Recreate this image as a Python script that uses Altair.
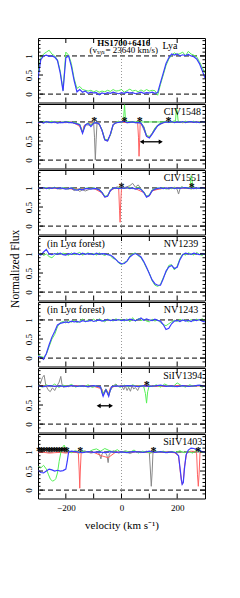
import altair as alt
import pandas as pd

SERIF = "Liberation Serif"
W = 167
H = 64.5
BLUE = "#3c3cff"
GREEN = "#55f055"
RED = "#ff6060"
GRAY = "#888888"

V10 = [-300, -290, -280, -270, -260, -250, -240, -230, -220, -210,
       -200, -190, -180, -170, -160, -150, -140, -130, -120, -110,
       -100, -90, -80, -70, -60, -50, -40, -30, -20, -10,
       0, 10, 20, 30, 40, 50, 60, 70, 80, 90,
       100, 110, 120, 130, 140, 150, 160, 170, 180, 190,
       200, 210, 220, 230, 240, 250, 260, 270, 280, 290, 300]

# ---------------- Panel 1 : Lya ----------------
P1_BLUE = [0.42, 0.90, 1.00, 1.02, 0.99, 1.00, 0.97, 0.88, 0.55, 0.08,
           0.95, 1.00, 0.72, 0.35, 0.06, 0.12, 0.05, 0.08, 0.02, 0.05,
           0.03, 0.04, -0.02, 0.03, 0.01, 0.04, 0.02, 0.05, 0.03, 0.01,
           0.04, 0.02, 0.05, 0.03, 0.04, 0.01, 0.03, 0.05, 0.02, 0.04,
           0.03, 0.05, 0.02, 0.04, 0.30, 0.55, 0.80, 0.95, 1.05, 1.02,
           1.05, 1.00, 1.03, 1.01, 1.04, 1.00, 0.98, 0.92, 0.80, 0.62, 0.42]
P1_GREEN = [0.55, 0.95, 1.05, 1.10, 1.15, 1.05, 1.00, 0.90, 0.60, 0.10,
            1.10, 1.02, 0.80, 0.40, 0.15, 0.20, 0.12, 0.10, 0.08, 0.10,
            0.06, 0.09, 0.05, 0.08, 0.06, 0.10, 0.07, 0.12, 0.08, 0.09,
            0.12, 0.05, 0.09, 0.13, 0.08, 0.10, 0.06, 0.11, 0.07, 0.12,
            0.08, 0.10, 0.09, -0.03, 0.25, 0.50, 0.75, 0.92, 1.02, 1.08,
            1.04, 1.06, 1.10, 1.00, 1.12, 1.05, 1.02, 0.98, 0.85, 0.70, 0.55]

# ---------------- Panel 2 : CIV1548 ----------------
P2_BLUE = [0.98, 1.00, 0.97, 1.01, 0.99, 0.98, 1.00, 0.97, 0.99, 0.98,
           1.00, 0.98, 0.99, 0.97, 0.95, 0.92, 0.70, 0.92, 0.96, 0.88,
           0.97, 0.98, 0.95, 0.78, 0.53, 0.50, 0.68, 0.93, 0.98, 0.99,
           1.00, 1.02, 0.98, 0.99, 1.00, 0.98, 0.99, 0.97, 0.85, 0.62,
           0.58, 0.68, 0.80, 0.90, 0.95, 0.98, 1.00, 0.99, 1.01, 0.98,
           1.00, 0.99, 1.01, 0.98, 1.00, 1.01, 0.99, 1.00, 0.98, 1.01, 0.99]
P2_GREEN = [1.01, 0.99, 1.02, 0.98, 1.00, 1.02, 0.99, 1.01, 0.98, 1.00,
            0.99, 1.01, 0.98, 1.00, 0.96, 0.94, 0.74, 0.92, 0.98, 0.93,
            0.99, 0.97, 0.94, 0.80, 0.55, 0.53, 0.65, 0.92, 0.99, 1.02,
            0.98, 1.03, 1.00, 0.98, 1.01, 0.99, 1.02, 0.98, 0.88, 0.65,
            0.62, 0.70, 0.84, 0.92, 0.97, 0.99, 1.02, 0.98, 1.00, 1.03,
            0.99, 1.01, 0.98, 1.02, 0.99, 1.00, 1.02, 0.98, 1.01, 0.99, 1.00]
P2_GSPIKE_V = [5, 8, 11, 14, 17, 194, 197, 200, 203, 206]
P2_GSPIKE_F = [1.00, 1.15, 1.45, 1.10, 1.00, 1.00, 1.35, 1.30, 1.05, 1.00]
P2_RED_V = [-300, -280, -260, -240, -220, -200, -180, -160, -150, -145, -140, -135,
            -120, -100, -80, -70, -60, -50, -40, -30, -20, 0, 20, 40,
            58, 61, 63, 65, 67, 70, 80, 90, 100, 110, 120,
            140, 160, 180, 200, 220, 240, 260, 280, 300]
P2_RED_F = [0.97, 1.00, 0.98, 1.01, 0.99, 0.98, 1.00, 0.93, 0.88, 0.80, 0.72, 0.90,
            0.97, 0.98, 0.94, 0.78, 0.54, 0.51, 0.66, 0.92, 0.99, 1.00, 0.98, 1.00,
            0.98, 0.60, 0.10, 0.45, 0.95, 0.97, 0.86, 0.63, 0.59, 0.70, 0.82,
            0.96, 1.00, 0.99, 1.01, 0.98, 1.00, 0.99, 1.01, 0.98]
P2_GRAY_V = [-300, -270, -240, -210, -180, -150, -140, -130,
             -110, -100, -97, -94, -91, -88,
             -80, -70, -60, -50, -40, -30,
             -10, 10, 30, 50, 70, 90, 100, 110, 130, 150,
             180, 210, 240, 270, 300]
P2_GRAY_F = [0.99, 1.01, 0.98, 1.00, 0.99, 0.93, 0.73, 0.92,
             0.92, 0.97, 0.60, 0.00, 0.55, 0.96,
             0.95, 0.77, 0.52, 0.50, 0.67, 0.93,
             1.00, 0.99, 1.00, 0.98, 0.97, 0.63, 0.59, 0.69, 0.90, 0.98,
             1.00, 0.99, 1.01, 0.99, 1.00]
P2_STAR_V = [-98, 11, 66, 169]

# ---------------- Panel 3 : CIV1551 ----------------
P3_BLUE = [1.00, 0.99, 1.01, 0.98, 1.00, 0.99, 1.01, 0.98, 1.00, 0.99,
           0.97, 0.98, 1.00, 0.96, 0.94, 0.97, 0.95, 0.98, 0.99, 0.97,
           0.99, 0.98, 0.95, 0.88, 0.76, 0.78, 0.93, 0.99, 1.00, 0.98,
           1.00, 0.99, 1.01, 0.98, 1.00, 0.97, 0.99, 0.96, 0.88, 0.76,
           0.80, 0.93, 0.97, 0.99, 1.00, 0.98, 1.00, 0.99, 1.01, 0.98,
           1.00, 0.99, 1.00, 1.01, 0.99, 1.00, 0.98, 1.00, 0.99, 1.01, 0.99]
P3_GREEN = [1.02, 0.98, 1.00, 1.01, 0.97, 1.00, 1.02, 0.99, 0.98, 1.01,
            0.99, 0.97, 1.01, 0.98, 0.95, 0.98, 0.96, 0.99, 1.00, 0.98,
            1.01, 0.97, 0.96, 0.90, 0.78, 0.80, 0.95, 1.00, 0.98, 1.01,
            0.98, 1.00, 0.99, 1.02, 0.98, 0.99, 1.01, 0.97, 0.90, 0.78,
            0.82, 0.95, 0.98, 1.00, 0.98, 1.01, 0.97, 1.00, 0.98, 1.01,
            0.98, 1.00, 1.02, 0.99, 1.01, 0.97, 1.00, 0.98, 1.01, 0.99, 0.98]
P3_GSPIKE_V = [247, 250, 253, 256]
P3_GSPIKE_F = [1.00, 1.32, 1.25, 1.00]
P3_GRAY_V = [-300, -280, -260, -240, -220, -200, -180,
             -170, -160, -150, -140, -130,
             -110, -90, -80, -70, -60, -50, -40, -30, -15,
             0, 15, 30, 40, 50, 60, 70, 80, 90, 100, 110,
             130, 150, 170, 190, 200, 205, 210, 215,
             230, 250, 270, 290, 300]
P3_GRAY_F = [1.00, 0.98, 1.01, 0.99, 0.97, 1.00, 0.98,
             0.93, 0.96, 0.91, 0.95, 0.92,
             0.98, 0.97, 0.94, 0.86, 0.77, 0.79, 0.92, 0.98, 1.03,
             0.99, 1.02, 1.06, 1.12, 1.02, 1.08, 0.98, 0.90, 0.77, 0.80, 0.92,
             0.98, 1.00, 0.97, 1.02, 0.96, 0.84, 0.97, 1.03,
             0.99, 1.00, 0.98, 1.01, 0.99]
P3_RED_V = [-300, -250, -200, -150, -100, -70, -60, -50, -40, -20,
            -10, -7, -5, -3, 0, 20, 50, 80, 90, 100,
            110, 150, 200, 250, 300]
P3_RED_F = [0.99, 1.00, 0.98, 0.97, 0.99, 0.87, 0.76, 0.79, 0.94, 1.00,
            0.98, 0.40, 0.10, 0.60, 0.99, 1.00, 0.98, 0.88, 0.77, 0.79,
            0.93, 0.99, 1.00, 0.98, 1.00]
P3_STAR_V = [0, 252]

# ---------------- Panel 4 : NV1239 ----------------
P4_BLUE = [1.00, 0.97, 1.05, 1.12, 1.00, 0.98, 1.01, 0.99, 1.02, 0.98,
           0.97, 1.01, 0.99, 1.02, 1.00, 0.98, 1.02, 0.99, 1.01, 1.00,
           0.98, 1.02, 0.99, 1.01, 1.00, 0.98, 0.97, 0.92, 0.85, 0.78,
           0.74, 0.75, 0.82, 0.92, 0.98, 1.01, 0.97, 0.92, 0.80, 0.65,
           0.48, 0.32, 0.22, 0.18, 0.18, 0.35, 0.55, 0.66, 0.70, 0.62,
           0.65, 0.85, 0.98, 1.02, 1.00, 0.99, 1.02, 1.00, 0.98, 1.01, 0.99]
P4_GREEN = [0.98, 1.02, 0.96, 1.00, 0.93, 0.90, 0.97, 1.03, 0.99, 1.02,
            1.00, 0.96, 1.03, 0.98, 1.01, 1.04, 0.97, 1.00, 1.03, 0.98,
            1.01, 0.97, 1.03, 0.99, 0.96, 1.00, 0.95, 0.88, 0.86, 0.76,
            0.72, 0.78, 0.80, 0.95, 1.00, 1.03, 0.95, 0.90, 0.78, 0.63,
            0.50, 0.30, 0.18, 0.15, 0.20, 0.38, 0.52, 0.70, 0.72, 0.58,
            0.68, 0.88, 1.00, 0.97, 1.03, 1.00, 0.97, 1.04, 0.99, 0.96, 1.02]

# ---------------- Panel 5 : NV1243 ----------------
P5_BLUE = [0.05, 0.02, -0.03, 0.12, 0.35, 0.55, 0.70, 0.87, 0.91, 0.93,
           0.95, 0.93, 0.97, 0.95, 0.96, 0.94, 0.98, 0.96, 0.97, 0.99,
           0.96, 0.98, 1.00, 0.97, 0.99, 1.01, 0.98, 1.00, 0.99, 1.01,
           0.98, 1.00, 0.99, 1.02, 1.00, 0.98, 1.01, 1.05, 0.99, 1.03,
           1.00, 0.98, 1.02, 0.99, 0.97, 0.88, 0.75, 0.78, 0.90, 0.97,
           0.99, 0.96, 1.00, 0.97, 0.99, 0.96, 1.00, 0.98, 1.01, 0.97, 0.95]
P5_GREEN = [0.08, 0.04, 0.02, 0.10, 0.30, 0.50, 0.62, 0.82, 0.93, 0.96,
            0.92, 0.98, 0.94, 1.00, 0.93, 0.97, 1.02, 0.95, 1.00, 0.97,
            1.02, 0.96, 1.03, 0.99, 0.95, 1.02, 1.00, 0.97, 1.03, 0.99,
            1.01, 0.97, 1.03, 0.95, 1.06, 0.96, 1.04, 0.98, 1.02, 0.97,
            0.95, 1.02, 0.97, 1.00, 0.93, 0.88, 0.85, 0.90, 0.95, 0.99,
            0.96, 1.02, 0.98, 1.00, 0.95, 1.01, 0.97, 1.02, 0.99, 1.03, 0.98]

# ---------------- Panel 6 : SiIV1394 ----------------
P6_BLUE_V = [-300, -280, -260, -240, -220, -200, -180, -160, -140, -120, -100,
             -85, -75, -70, -66, -62, -56, -50, -46, -42, -36,
             -20, 0, 20, 40, 60, 80, 100, 120, 140, 160, 180, 200, 220, 240, 260, 280, 300]
P6_BLUE_F = [1.00, 0.98, 1.01, 0.99, 1.00, 0.98, 1.01, 0.99, 1.00, 0.98, 1.01,
             0.99, 0.97, 0.82, 0.73, 0.80, 0.90, 0.80, 0.73, 0.85, 0.98,
             1.00, 0.99, 1.01, 1.00, 0.98, 1.01, 0.99, 1.00, 1.02, 0.99, 1.00, 0.98, 1.01, 0.99, 1.00, 1.02, 0.99]
P6_GREEN_V = [-300, -285, -270, -255, -240, -225, -210, -195, -180, -165,
              -150, -135, -120, -105, -90, -75, -66, -56, -46, -35,
              -20, -5, 10, 25, 40, 55, 70, 80, 86, 90,
              94, 100, 110, 125, 140, 155, 170, 185, 200, 215,
              230, 245, 260, 275, 290, 300]
P6_GREEN_F = [1.02, 0.97, 1.03, 0.98, 1.05, 0.96, 1.02, 0.99, 1.04, 0.97,
              1.01, 0.98, 1.03, 0.96, 1.00, 0.97, 0.80, 0.92, 0.78, 0.97,
              1.03, 0.96, 1.02, 0.97, 1.03, 0.99, 1.01, 0.98, 0.80, 0.55,
              0.85, 1.02, 0.98, 1.03, 0.97, 1.05, 1.00, 0.98, 1.08, 1.01,
              0.97, 1.03, 0.99, 1.02, 0.97, 1.00]
P6_GRAY_V = [-300, -292, -284, -278, -272, -264, -256, -248, -240, -232,
             -224, -218, -214, -208, -200, -190, -180, -160, -140, -120,
             -100, -85, -75, -70, -66, -62, -56, -50, -46, -40,
             -30, -20, -10, 0, 8, 14, 20, 26, 32, 38,
             44, 50, 58, 66, 80, 100, 130, 160, 190, 220,
             250, 280, 300]
P6_GRAY_F = [1.00, 1.05, 1.22, 1.28, 1.02, 0.90, 0.85, 0.95, 0.88, 1.00,
             1.10, 1.25, 1.05, 0.96, 1.00, 0.98, 1.02, 0.99, 1.01, 0.97,
             1.00, 0.98, 0.96, 0.84, 0.74, 0.82, 0.91, 0.80, 0.74, 0.88,
             1.00, 1.05, 0.98, 1.02, 0.90, 1.00, 0.88, 0.96, 0.86, 1.00,
             0.92, 0.96, 0.88, 1.00, 0.98, 1.00, 0.99, 1.01, 0.98, 1.00,
             0.99, 1.01, 1.00]
P6_RED_V = [-300, -250, -200, -150, -100, -70, -66, -56, -46, -40,
            -20, 0, 50, 100, 150, 200, 250, 300]
P6_RED_F = [1.01, 0.99, 1.00, 1.01, 0.99, 0.92, 0.80, 0.92, 0.80, 0.95,
            1.00, 0.99, 1.01, 1.00, 0.99, 1.01, 1.00, 1.00]
P6_STAR_V = [91]

# ---------------- Panel 7 : SiIV1403 ----------------
P7_BLUE_V = [-300, -290, -280, -270, -260, -250, -240, -230, -220, -210,
             -200, -195, -190, -180, -160, -140, -120, -100, -80, -60,
             -40, -20, 0, 20, 40, 60, 80, 100, 120, 140,
             160, 180, 195, 205, 210, 215, 218, 222, 226, 232,
             240, 250, 260, 270, 280, 290, 300]
P7_BLUE_F = [0.52, 0.46, 0.45, 0.50, 0.55, 0.53, 0.50, 0.52, 0.50, 0.51,
             0.55, 0.75, 1.00, 1.02, 1.00, 0.98, 1.01, 0.99, 1.00, 0.98,
             1.01, 0.99, 1.00, 0.98, 1.01, 1.00, 0.99, 1.02, 0.99, 1.01,
             0.98, 1.00, 0.98, 0.90, 0.60, 0.28, 0.15, 0.20, 0.55, 0.92,
             1.05, 1.10, 1.09, 1.06, 1.03, 1.01, 0.99]
P7_GREEN_V = [-300, -290, -280, -270, -262, -255, -248, -242, -236, -230,
              -224, -218, -212, -206, -200, -190, -180, -165, -150, -135,
              -120, -105, -90, -75, -60, -45, -30, -15, 0, 15,
              30, 45, 60, 75, 90, 105, 120, 135, 150, 165,
              180, 195, 210, 225, 240, 255, 270, 285, 300]
P7_GREEN_F = [0.62, 0.58, 0.65, 0.55, 0.40, 0.28, 0.24, 0.25, 0.30, 0.45,
              0.75, 0.98, 1.12, 1.18, 1.08, 1.02, 0.98, 1.04, 0.97, 1.03,
              0.99, 1.05, 1.08, 1.02, 1.09, 1.04, 1.00, 1.06, 0.98, 1.03,
              0.99, 1.05, 0.97, 1.02, 1.00, 0.97, 1.03, 0.99, 1.02, 0.98,
              1.01, 0.99, 1.03, 0.98, 1.02, 0.97, 1.04, 1.00, 0.98]
P7_RED_V = [-300, -280, -260, -240, -220, -200, -180, -165, -155, -152,
            -150, -148, -145, -130, -100, -72, -48, -20, 0, 50,
            100, 150, 190, 205, 210, 215, 218, 222, 226, 235,
            250, 265, 270, 273, 276, 279, 282, 290, 300]
P7_RED_F = [0.98, 0.99, 0.97, 0.98, 0.99, 0.97, 1.00, 0.99, 0.97, 0.50,
            0.05, 0.50, 0.98, 1.00, 0.99, 0.90, 0.85, 1.00, 0.99, 1.00,
            0.98, 1.00, 0.98, 0.90, 0.55, 0.25, 0.15, 0.22, 0.60, 1.00,
            1.02, 1.01, 0.95, 0.40, 0.10, 0.45, 0.98, 1.01, 0.99]
P7_GRAY_V = [-300, -270, -240, -210, -190, -170, -150, -130, -110, -90,
             -80, -74, -70, -60, -52, -48, -44, -30, -10, 10,
             30, 50, 70, 90, 100, 104, 107, 110, 113, 120,
             140, 170, 200, 230, 260, 290, 300]
P7_GRAY_F = [1.00, 0.99, 1.01, 1.00, 0.98, 1.01, 0.99, 1.02, 0.97, 1.00,
             0.96, 0.82, 0.95, 1.02, 0.90, 0.72, 0.95, 1.03, 0.97, 1.02,
             0.96, 1.01, 0.98, 1.02, 0.98, 0.50, 0.10, 0.45, 0.97, 1.00,
             0.99, 1.01, 0.98, 1.00, 0.99, 1.00, 1.01]
P7_STAR_V = [-296, -287, -278, -269, -260, -251, -242, -233, -224, -215, -206, -197,
             -148, 115, 276]

X_TICKS = [-200, -100, 0, 100, 200]
X_LABELS = [-200, 0, 200]
Y_TICKS = [0, 0.5, 1]
Y_MINOR = [-0.1, 0.1, 0.2, 0.3, 0.4, 0.6, 0.7, 0.8, 0.9, 1.1, 1.2, 1.3, 1.4]

XS = alt.Scale(domain=[-300, 300], nice=False, zero=False)
YS = alt.Scale(domain=[-0.22, 1.47], nice=False, zero=False)

AX = {"x": None, "y": None}


def xenc():
    return alt.X("v:Q", scale=XS, axis=AX["x"], title=None)


def yenc():
    return alt.Y("f:Q", scale=YS, axis=AX["y"], title=None)


def line(v, f, color, width=1.0):
    df = pd.DataFrame({"v": v, "f": f})
    return alt.Chart(df).mark_line(color=color, strokeWidth=width, clip=True).encode(
        x=xenc(), y=yenc())


def text_layer(v, f, t, size=10, align="left", weight="normal"):
    df = pd.DataFrame({"v": [v], "f": [f], "t": [t]})
    return alt.Chart(df).mark_text(align=align, baseline="middle", font=SERIF,
                                   fontSize=size, fontWeight=weight, color="black").encode(
        x=xenc(), y=yenc(), text="t:N")


def stars(vs, f=1.1):
    df = pd.DataFrame({"v": vs, "f": [f] * len(vs)})
    return alt.Chart(df).mark_text(text="*", font=SERIF, fontSize=12, fontWeight="bold",
                                   baseline="middle", dy=3, color="black").encode(
        x=xenc(), y=yenc())


def arrow(v1, v2, f=0.48):
    df = pd.DataFrame({"v": [v1], "v2": [v2], "f": [f]})
    shaft = alt.Chart(df).mark_rule(color="black", strokeWidth=1.3).encode(
        x=xenc(), x2="v2:Q", y=yenc())
    hd = pd.DataFrame({"v": [v1, v2], "f": [f, f], "s": ["triangle-left", "triangle-right"]})
    heads = alt.Chart(hd).mark_point(filled=True, color="black", size=22, opacity=1).encode(
        x=xenc(), y=yenc(), shape=alt.Shape("s:N", scale=None))
    return [shaft, heads]


def ticks():
    xt = pd.DataFrame({"v": X_TICKS})
    yt = pd.DataFrame({"f": Y_TICKS})
    ym = pd.DataFrame({"f": Y_MINOR})
    out = []
    for y0, y1 in [(H, H - 5), (0, 5)]:
        out.append(alt.Chart(xt).mark_rule(color="black").encode(
            x=xenc(), y=alt.value(y0), y2=alt.value(y1)))
    for df, ln in [(yt, 5), (ym, 2.5)]:
        out.append(alt.Chart(df).mark_rule(color="black").encode(
            y=yenc(), x=alt.value(0), x2=alt.value(ln)))
        out.append(alt.Chart(df).mark_rule(color="black").encode(
            y=yenc(), x=alt.value(W), x2=alt.value(W - ln)))
    return out


def panel(series, extra_fn, last=False, ytitle=False):
    AX["y"] = alt.Axis(values=Y_TICKS, format="~g", labelAngle=270, labelAlign="center",
                       labelBaseline="bottom",
                       ticks=False, domain=False, grid=False, labelFont=SERIF, labelFontSize=9,
                       labelPadding=5, labelColor="black",
                       title="Normalized Flux" if ytitle else None,
                       titleFont=SERIF, titleFontSize=11.5, titleFontWeight="normal",
                       titlePadding=3.5, titleColor="black")
    if last:
        AX["x"] = alt.Axis(values=X_LABELS, ticks=False, domain=False, grid=False,
                           labelFont=SERIF, labelFontSize=9, labelPadding=5, labelColor="black",
                           title="velocity (km s\u207b\u00b9)", titleFont=SERIF, titleFontSize=11,
                           titleFontWeight="normal", titlePadding=7, titleColor="black")
    else:
        AX["x"] = None
    hl = alt.Chart(pd.DataFrame({"f": [0, 1]})).mark_rule(
        color="black", strokeDash=[5, 3], strokeWidth=1).encode(y=yenc())
    vl = alt.Chart(pd.DataFrame({"v": [0]})).mark_rule(
        color="#999999", strokeDash=[1, 2], strokeWidth=1).encode(x=xenc())
    layers = [hl, vl]
    for v, f, c in series:
        layers.append(line(v, f, c, 1.2 if c == BLUE else 1.0))
    layers += extra_fn()
    layers += ticks()
    return alt.layer(*layers).properties(width=W, height=H)


p1 = panel([(V10, P1_GREEN, GREEN), (V10, P1_BLUE, BLUE)],
           lambda: [text_layer(147, 1.25, "Lya"),
                    text_layer(8, 1.35, "HS1700+6416", size=9, align="center", weight="bold"),
                    text_layer(8, 1.15, "(v\u209b\u1d67\u209b= 23640 km/s)", size=9, align="center")])
p2 = panel([(P2_GRAY_V, P2_GRAY_F, GRAY), (P2_RED_V, P2_RED_F, RED),
            (V10, P2_GREEN, GREEN), (P2_GSPIKE_V, P2_GSPIKE_F, GREEN), (V10, P2_BLUE, BLUE)],
           lambda: [text_layer(152, 1.27, "CIV1548"), stars(P2_STAR_V)] + arrow(73, 141))
p3 = panel([(P3_GRAY_V, P3_GRAY_F, GRAY), (P3_RED_V, P3_RED_F, RED),
            (V10, P3_GREEN, GREEN), (P3_GSPIKE_V, P3_GSPIKE_F, GREEN), (V10, P3_BLUE, BLUE)],
           lambda: [text_layer(152, 1.27, "CIV1551"), stars(P3_STAR_V)])
p4 = panel([(V10, P4_GREEN, GREEN), (V10, P4_BLUE, BLUE)],
           lambda: [text_layer(152, 1.27, "NV1239"), text_layer(-268, 1.27, "(in Ly\u03b1 forest)")],
           ytitle=True)
p5 = panel([(V10, P5_GREEN, GREEN), (V10, P5_BLUE, BLUE)],
           lambda: [text_layer(152, 1.27, "NV1243"), text_layer(-268, 1.27, "(in Ly\u03b1 forest)")])
p6 = panel([(P6_GRAY_V, P6_GRAY_F, GRAY), (P6_RED_V, P6_RED_F, RED),
            (P6_GREEN_V, P6_GREEN_F, GREEN), (P6_BLUE_V, P6_BLUE_F, BLUE)],
           lambda: [text_layer(150, 1.27, "SiIV1394"), stars(P6_STAR_V)] + arrow(-82, -38))
p7 = panel([(P7_GRAY_V, P7_GRAY_F, GRAY), (P7_RED_V, P7_RED_F, RED),
            (P7_GREEN_V, P7_GREEN_F, GREEN), (P7_BLUE_V, P7_BLUE_F, BLUE)],
           lambda: [text_layer(150, 1.27, "SiIV1403"), stars(P7_STAR_V)], last=True)

chart = alt.vconcat(p1, p2, p3, p4, p5, p6, p7, spacing=1, bounds="flush").properties(
    padding={"left": 0, "top": 29, "right": 2, "bottom": 2},
    background="white",
).configure_view(stroke="black", strokeWidth=1)

chart.save("out.html", embed_options={"renderer": "svg", "actions": False})
